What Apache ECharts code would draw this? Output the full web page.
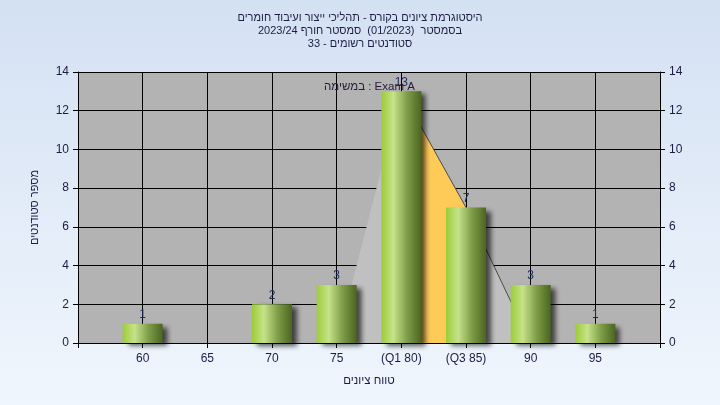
<!DOCTYPE html>
<html>
<head>
<meta charset="utf-8">
<script src="https://cdn.jsdelivr.net/npm/echarts@6/dist/echarts.min.js"></script>
<style>
html,body{margin:0;padding:0;}
#chart{width:720px;height:405px;}
</style>
</head>
<body>
<div id="chart"></div>
<script>
// ---- data ----
var titleLines = [
  'היסטוגרמת ציונים בקורס - תהליכי ייצור ועיבוד חומרים',
  'בסמסטר  (01/2023)  סמסטר חורף 2023/24',
  'סטודנטים רשומים - 33'
];
var legendText = 'במשימה : Exam A';
var xAxisName = 'טווח ציונים';
var yAxisName = 'מספר סטודנטים';
var grades = [60, 65, 70, 75, 80, 85, 90, 95];
var counts = [1, 0, 2, 3, 13, 7, 3, 1];
var gradeLabels = ['60', '65', '70', '75', '(Q1 80)', '(Q3 85)', '90', '95'];
var curveX = [75, 80, 85, 90];
var curveY = [0, 13, 7, 0];
var q1 = 80, q3 = 85;
var xMin = 55, xMax = 100, xStep = 5;
var yMin = 0, yMax = 14, yStep = 2;

// ---- build ----
var barData = [];
grades.forEach(function (g, i) { if (counts[i] > 0) barData.push([g, counts[i]]); });
var curveData = curveX.map(function (x, i) { return [x, curveY[i]]; });
var iqrData = curveData.filter(function (p) { return p[0] >= q1 && p[0] <= q3; });
var tailData = curveData.filter(function (p) { return p[0] >= q1; });

var font = '"Liberation Sans", "DejaVu Sans", Arial, sans-serif';
var txt = '#1c1c44';

var yAxisCommon = {
  type: 'value', min: yMin, max: yMax, interval: yStep,
  axisLine: { show: true, lineStyle: { color: '#000', width: 1 } },
  axisTick: { show: true, length: 5, lineStyle: { color: '#000' } },
  axisLabel: { color: txt, fontSize: 12, fontFamily: font, margin: 9 },
  splitLine: { show: false }
};

var chart = echarts.init(document.getElementById('chart'), null, { renderer: 'canvas' });
chart.setOption({
  backgroundColor: {
    type: 'linear', x: 0, y: 0, x2: 0, y2: 1,
    colorStops: [{ offset: 0, color: '#d4e1f3' }, { offset: 1, color: '#f0f6fd' }]
  },
  animation: false,
  title: [{
    text: titleLines.join('\n'), left: 'center', top: 6,
    textStyle: { color: txt, fontSize: 11, fontWeight: 'normal', fontFamily: font, lineHeight: 13 }
  }, {
    text: legendText, left: 319, top: 76,
    textStyle: { color: '#2a1a3a', fontSize: 11.5, fontWeight: 'normal', fontFamily: font }
  }],
  grid: { left: 78, right: 60, top: 72, bottom: 62, show: true, backgroundColor: '#b3b3b3', borderWidth: 0 },
  xAxis: {
    type: 'value', min: xMin, max: xMax, interval: xStep,
    name: xAxisName, nameLocation: 'middle', nameGap: 32,
    nameTextStyle: { color: txt, fontSize: 11.5, fontFamily: font },
    axisLine: { show: true, onZero: false, lineStyle: { color: '#000', width: 1 } },
    axisTick: { show: true, length: 5, lineStyle: { color: '#000' } },
    axisLabel: {
      color: txt, fontSize: 12, fontFamily: font, margin: 10,
      showMinLabel: true, showMaxLabel: true,
      formatter: function (v) { var i = grades.indexOf(v); return i >= 0 ? gradeLabels[i] : ''; }
    },
    splitLine: { show: true, lineStyle: { color: '#000', width: 1 } }
  },
  yAxis: [
    Object.assign({}, yAxisCommon, {
      position: 'left',
      name: yAxisName, nameLocation: 'middle', nameGap: 38,
      nameTextStyle: { color: txt, fontSize: 11, fontFamily: font },
      splitLine: { show: true, lineStyle: { color: '#000', width: 1 } }
    }),
    Object.assign({}, yAxisCommon, { position: 'right' })
  ],
  series: [
    {
      type: 'line', data: curveData, symbol: 'none', z: 1,
      lineStyle: { width: 0 },
      areaStyle: { color: '#c0c0c0', opacity: 1 }
    },
    {
      type: 'line', data: iqrData, symbol: 'none', z: 2,
      lineStyle: { width: 0 },
      areaStyle: { color: '#fecb58', opacity: 1 }
    },
    {
      type: 'line', data: tailData, symbol: 'none', z: 3,
      lineStyle: { width: 1, color: '#4a4a4a' }
    },
    {
      type: 'bar', data: barData, barWidth: 40, z: 4,
      itemStyle: {
        color: {
          type: 'linear', x: 0, y: 0, x2: 1, y2: 0,
          colorStops: [
            { offset: 0, color: '#9ccc38' },
            { offset: 0.3, color: '#c6e28a' },
            { offset: 0.65, color: '#7e9c48' },
            { offset: 1, color: '#4a6620' }
          ]
        },
        shadowColor: 'rgba(0,0,0,0.65)', shadowBlur: 5, shadowOffsetX: 5, shadowOffsetY: 3
      },
      label: {
        show: true, position: 'top', distance: 3,
        color: '#1c2c5c', fontSize: 12, fontFamily: font,
        formatter: function (p) { return p.value[1]; }
      }
    }
  ]
});
</script>
</body>
</html>
